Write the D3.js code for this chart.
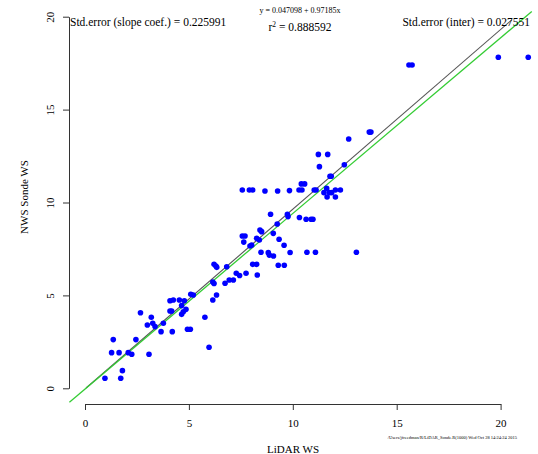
<!DOCTYPE html>
<meta charset="utf-8">
<script src="https://d3js.org/d3.v7.min.js"></script>
<style>
  body { margin: 0; background: #fff; }
  text { font-family: "Liberation Serif", "Times New Roman", serif; fill: #000; }
</style>
<div id="my_dataviz"></div>
<script>

    // data
    const lidarWS = [0.96, 1.72, 1.80, 1.28, 1.64, 2.08, 2.25, 1.36, 2.45, 3.08,
        2.67, 3.19, 3.00, 3.26, 3.37, 3.77, 3.66, 4.20, 4.93, 5.07,
        4.09, 4.25, 4.54, 4.78, 4.09, 4.17, 4.65, 4.86, 4.65, 4.73,
        5.09, 5.21, 5.77, 5.97, 6.15, 6.33, 6.15, 6.21, 6.21, 6.30,
        6.34, 6.82, 6.74, 6.94, 7.14, 7.28, 7.44, 7.75, 8.07, 8.26,
        8.29, 7.57, 7.70, 7.64, 7.94, 8.02, 8.26, 8.39, 8.42, 8.50,
        8.47, 8.82, 8.87, 9.07, 9.06, 8.93, 9.34, 9.25, 9.58, 9.87,
        9.30, 9.59, 9.74, 9.77, 10.32, 10.64, 10.88, 10.97, 10.68, 11.09,
        13.06, 7.57, 7.91, 8.07, 8.66, 9.27, 9.84, 10.30, 10.44, 10.41,
        10.57, 11.03, 11.12, 11.63, 11.50, 11.76, 11.87, 12.05, 12.29, 11.65,
        12.05, 11.79, 11.85, 11.28, 12.48, 11.23, 11.68, 12.69, 13.68, 13.76,
        15.59, 15.74, 19.89, 21.33];
    const sondeWS = [0.54, 0.54, 0.95, 1.92, 1.92, 1.92, 1.83, 2.62, 2.62, 1.83,
        4.07, 3.82, 3.41, 3.50, 3.32, 3.50, 3.05, 3.05, 3.18, 3.18,
        4.71, 4.75, 4.75, 4.71, 4.16, 4.16, 4.45, 4.25, 3.98, 4.12,
        5.06, 5.02, 3.82, 2.21, 4.75, 5.02, 5.72, 5.64, 6.67, 6.58,
        6.51, 6.54, 5.65, 5.83, 5.83, 6.19, 6.07, 6.19, 6.67, 6.67,
        6.10, 8.20, 8.20, 7.87, 7.66, 7.71, 8.07, 7.98, 8.52, 8.43,
        7.32, 7.30, 7.17, 7.12, 8.34, 9.37, 8.02, 8.84, 7.70, 7.31,
        6.62, 6.62, 9.37, 9.24, 9.19, 9.10, 9.10, 9.10, 7.32, 7.32,
        7.32, 10.67, 10.67, 10.67, 10.62, 10.62, 10.64, 10.67, 10.67, 11.00,
        11.00, 10.67, 10.67, 10.76, 10.53, 10.53, 10.53, 10.67, 10.67, 10.30,
        10.30, 11.41, 11.41, 11.93, 12.03, 12.59, 12.59, 13.42, 13.79, 13.79,
        17.40, 17.40, 17.82, 17.82];

    const xTicks = [0, 5, 10, 15, 20];
    const yTicks = [0, 5, 10, 15, 20];

    // two reference lines: [x start, x end, intercept, slope]
    const blackLine = [0.05, 20.55, -0.03, 0.967];
    const greenLine = [-0.75, 21.5, -0.04, 0.945];

    const xTitle = "LiDAR WS";
    const yTitle = "NWS Sonde WS";
    const eqText = "y =  0.047098 + 0.97185x";
    const r2Value = "0.888592";
    const seSlope = "Std.error (slope coef.) = 0.225991";
    const seInter = "Std.error (inter) = 0.027551";
    const footer = "/Users/jfreedman/R/LiDAR_Sonde.R(1000) Wed Oct 28 14:24:24 2015";

    const width = 538, height = 454;

    const svg = d3.select("#my_dataviz")
        .append("svg")
        .attr("width", width)
        .attr("height", height);

    // scales (tick 0 .. tick 20)
    const x = d3.scaleLinear().domain([0, 20]).range([85, 500.6]);
    const y = d3.scaleLinear().domain([0, 20]).range([388.3, 16.7]);

    // X axis
    const gx = svg.append("g")
        .attr("transform", "translate(0,404)")
        .call(d3.axisBottom(x).tickValues(xTicks).tickSize(6).tickSizeOuter(0).tickPadding(9))
    gx.selectAll("path,line").attr("stroke", "#333");
    gx.selectAll("text").style("font-size", "11px").style("font-family", "Liberation Serif");

    // Y axis, labels parallel to axis like R
    const gy = svg.append("g")
        .attr("transform", "translate(69,0)")
        .call(d3.axisLeft(y).tickValues(yTicks).tickSize(6).tickSizeOuter(0))
    gy.selectAll("path,line").attr("stroke", "#333");
    gy.selectAll("text")
        .attr("x", 0).attr("dy", 0)
        .attr("transform", "translate(-15,0) rotate(-90)")
        .style("text-anchor", "middle")
        .style("font-size", "11px").style("font-family", "Liberation Serif");

    // lines
    const line = d3.line().x(d => x(d[0])).y(d => y(d[1]));
    function lineData(l) {
        return [[l[0], l[2] + l[3] * l[0]], [l[1], l[2] + l[3] * l[1]]];
    }
    svg.append("path")
        .attr("d", line(lineData(blackLine)))
        .attr("stroke", "#555")
        .attr("stroke-width", 1.1)
        .attr("fill", "none");
    svg.append("path")
        .attr("d", line(lineData(greenLine)))
        .attr("stroke", "#33cc33")
        .attr("stroke-width", 1.3)
        .attr("fill", "none");

    // points
    svg.selectAll("circle")
        .data(lidarWS.map((v, i) => [v, sondeWS[i]]))
        .join("circle")
        .attr("cx", d => x(d[0]))
        .attr("cy", d => y(d[1]))
        .attr("r", 2.8)
        .attr("fill", "#0000ff");

    // titles
    svg.append("text")
        .attr("x", 293).attr("y", 453)
        .attr("text-anchor", "middle")
        .style("font-size", "11px")
        .text(xTitle);
    svg.append("text")
        .attr("transform", "translate(28,197) rotate(-90)")
        .attr("text-anchor", "middle")
        .style("font-size", "11px")
        .text(yTitle);

    // annotations
    svg.append("text")
        .attr("x", 300).attr("y", 13)
        .attr("text-anchor", "middle")
        .style("font-size", "8px")
        .text(eqText);
    const r2 = svg.append("text")
        .attr("x", 300).attr("y", 31)
        .attr("text-anchor", "middle")
        .style("font-size", "11.5px");
    r2.append("tspan").text("r");
    r2.append("tspan").attr("dy", -4).style("font-size", "7.5px").text("2");
    r2.append("tspan").attr("dy", 4).text(" = " + r2Value);

    svg.append("text")
        .attr("x", 70).attr("y", 26)
        .style("font-size", "11.5px")
        .text(seSlope);
    svg.append("text")
        .attr("x", 530).attr("y", 26)
        .attr("text-anchor", "end")
        .style("font-size", "11.5px")
        .text(seInter);

    svg.append("text")
        .attr("x", 517).attr("y", 438.5)
        .attr("text-anchor", "end")
        .style("font-size", "4.5px")
        .text(footer);

</script>
